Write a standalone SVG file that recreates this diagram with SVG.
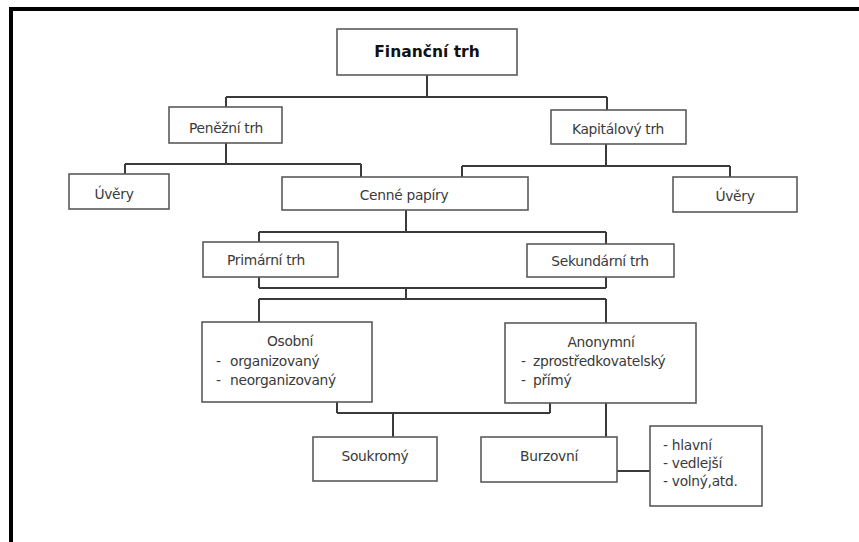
<svg xmlns="http://www.w3.org/2000/svg" width="859" height="542" viewBox="0 0 859 542">
<style>
.box{fill:#fff;stroke:#5a5a5a;stroke-width:1.6}
.t{font-family:"DejaVu Sans",Verdana,sans-serif;font-size:13.8px;fill:#3a3a3a;text-anchor:middle;letter-spacing:-0.3px}
.l{text-anchor:start}
.b{font-weight:bold;font-size:15.5px;fill:#111;letter-spacing:0}
#connectors path{fill:none;stroke:#3a3a3a;stroke-width:2}
</style>
<rect x="0" y="0" width="859" height="542" fill="#fff"/>
<g id="frame">
<rect x="9" y="7" width="850" height="4" fill="#000"/>
<rect x="9" y="7" width="4" height="535" fill="#000"/>
</g>
<g id="connectors">
<path d="M427 75V97M226 97H607M226 97V107M607 97V110"/>
<path d="M226 143V164M125 164H361M125 164V174M361 164V177"/>
<path d="M606 144V166M462 166H730M462 166V177M730 166V177"/>
<path d="M406 210V232M259 232H606M259 232V242M606 232V244"/>
<path d="M259 277V288M606 277V288M259 288H606M406 288V299M259 299H606M259 299V322M606 299V323"/>
<path d="M337 402V413M550 403V413M337 413H550M393 413V437"/>
<path d="M606 403V437M617 471H650"/>
</g>
<g id="financni-trh"><rect class="box" x="337" y="29" width="180" height="46"/><text class="t b" x="427" y="57">Finanční trh</text></g>
<g id="penezni-trh"><rect class="box" x="169" y="107" width="113" height="36"/><text class="t" x="226" y="133">Peněžní trh</text></g>
<g id="kapitalovy-trh"><rect class="box" x="551" y="110" width="135" height="34"/><text class="t" x="618" y="134">Kapitálový trh</text></g>
<g id="uvery-1"><rect class="box" x="69" y="174" width="100" height="35"/><text class="t" x="114" y="199">Úvěry</text></g>
<g id="cenne-papiry"><rect class="box" x="282" y="177" width="246" height="33"/><text class="t" x="404" y="200">Cenné papíry</text></g>
<g id="uvery-2"><rect class="box" x="673" y="177" width="124" height="35"/><text class="t" x="735" y="201">Úvěry</text></g>
<g id="primarni-trh"><rect class="box" x="203" y="242" width="135" height="35"/><text class="t" x="266" y="265">Primární trh</text></g>
<g id="sekundarni-trh"><rect class="box" x="527" y="244" width="147" height="33"/><text class="t" x="600" y="266">Sekundární trh</text></g>
<g id="osobni"><rect class="box" x="202" y="322" width="170" height="80"/>
<text class="t" x="290" y="346">Osobní</text>
<text class="t l" x="216" y="366">-<tspan x="230">organizovaný</tspan></text>
<text class="t l" x="216" y="385">-<tspan x="230">neorganizovaný</tspan></text></g>
<g id="anonymni"><rect class="box" x="505" y="323" width="191" height="80"/>
<text class="t" x="601" y="347">Anonymní</text>
<text class="t l" x="521" y="366">-<tspan x="533">zprostředkovatelský</tspan></text>
<text class="t l" x="521" y="385">-<tspan x="533">přímý</tspan></text></g>
<g id="soukromy"><rect class="box" x="313" y="437" width="124" height="44"/><text class="t" x="375" y="461">Soukromý</text></g>
<g id="burzovni"><rect class="box" x="481" y="437" width="136" height="45"/><text class="t" x="549" y="461">Burzovní</text></g>
<g id="druhy"><rect class="box" x="650" y="426" width="112" height="80"/>
<text class="t l" x="663" y="450">- hlavní</text>
<text class="t l" x="663" y="468">- vedlejší</text>
<text class="t l" x="663" y="486">- volný,atd.</text></g>
</svg>
